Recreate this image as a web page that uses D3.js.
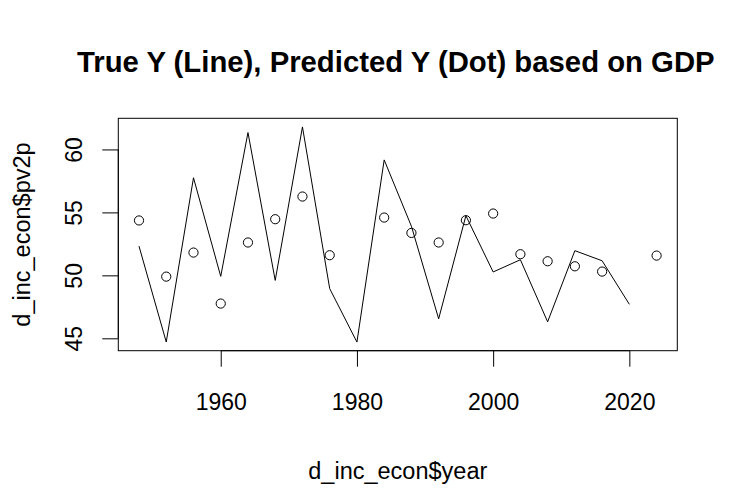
<!DOCTYPE html>
<html>
<head>
<meta charset="utf-8">
<script src="https://cdn.jsdelivr.net/npm/d3@7"></script>
<style>
html, body { margin: 0; padding: 0; background: #fff; }
svg { display: block; }
text { font-family: "Liberation Sans", Arial, sans-serif; fill: #000; }
</style>
</head>
<body>
<script>
const years = [1948, 1952, 1956, 1960, 1964, 1968, 1972, 1976, 1980, 1984, 1988, 1992, 1996, 2000, 2004, 2008, 2012, 2016, 2020, 2024];
const trueY = [52.32, 44.71, 57.75, 49.92, 61.34, 49.6, 61.79, 48.95, 44.7, 59.17, 53.9, 46.55, 54.74, 50.27, 51.24, 46.31, 51.96, 51.16, 47.7, null];
const predY = [54.36, 49.9, 51.81, 47.76, 52.61, 54.46, 56.26, 51.6, null, 54.59, 53.37, 52.61, 54.38, 54.91, 51.68, 51.12, 50.72, 50.3, null, 51.57];
const xTicks = [1960, 1980, 2000, 2020];
const yTicks = [45, 50, 55, 60];
const title = "True Y (Line), Predicted Y (Dot) based on GDP";
const xLabel = "d_inc_econ$year";
const yLabel = "d_inc_econ$pv2p";

const W = 738, H = 498;
const L = 118.3, R = 677.3, T = 118.3, B = 350.7;

const svg = d3.select("body").append("svg").attr("width", W).attr("height", H);

const xMin = d3.min(years), xMax = d3.max(years);
const xPad = (xMax - xMin) * 0.04;
const x = d3.scaleLinear().domain([xMin - xPad, xMax + xPad]).range([L, R]);

const yVals = trueY.filter(v => v != null);
const yMin = d3.min(yVals), yMax = d3.max(yVals);
const yPad = (yMax - yMin) * 0.04;
const y = d3.scaleLinear().domain([yMin - yPad, yMax + yPad]).range([B, T]);

// line
const lineData = years.map((yr, i) => ({yr, v: trueY[i]}));
svg.append("path")
  .datum(lineData)
  .attr("fill", "none")
  .attr("stroke", "#000")
  .attr("stroke-width", 1)
  .attr("d", d3.line().defined(d => d.v != null).x(d => x(d.yr)).y(d => y(d.v)));

// points
const ptData = years.map((yr, i) => ({yr, v: predY[i]})).filter(d => d.v != null);
svg.append("g").selectAll("circle").data(ptData).join("circle")
  .attr("cx", d => x(d.yr)).attr("cy", d => y(d.v)).attr("r", 4.6)
  .attr("fill", "none").attr("stroke", "#000").attr("stroke-width", 1);

// box
svg.append("rect").attr("x", L).attr("y", T).attr("width", R - L).attr("height", B - T)
  .attr("fill", "none").attr("stroke", "#000").attr("stroke-width", 1);

// x axis
const xAxis = d3.axisBottom(x).tickValues(xTicks).tickFormat(d3.format("d")).tickSize(16).tickPadding(27);
const gx = svg.append("g").attr("transform", `translate(0,${B})`).call(xAxis);
gx.select(".domain").attr("d", `M${x(xTicks[0])},0H${x(xTicks[xTicks.length-1])}`);
gx.selectAll("text").style("font-size", "23px").style("font-family", '"Liberation Sans", Arial, sans-serif');
gx.selectAll("line").attr("stroke", "#000");

// y axis
const yAxis = d3.axisLeft(y).tickValues(yTicks).tickSize(16).tickPadding(0);
const gy = svg.append("g").attr("transform", `translate(${L},0)`).call(yAxis);
gy.select(".domain").attr("d", `M0,${y(yTicks[0])}V${y(yTicks[yTicks.length-1])}`);
gy.selectAll("line").attr("stroke", "#000");
gy.selectAll(".tick text")
  .attr("x", 0).attr("dy", null).attr("text-anchor", "middle")
  .attr("transform", "translate(-36.5,0) rotate(-90)")
  .attr("y", 0)
  .style("font-size", "23px").style("font-family", '"Liberation Sans", Arial, sans-serif');

// title
svg.append("text").attr("x", (L + R) / 2 - 2).attr("y", 71.7)
  .attr("text-anchor", "middle").style("font-size", "29.3px").style("font-weight", "bold")
  .text(title);

// x label
svg.append("text").attr("x", (L + R) / 2).attr("y", 478.7)
  .attr("text-anchor", "middle").style("font-size", "23.5px").text(xLabel);

// y label
svg.append("text").attr("transform", `translate(30,${(T + B) / 2}) rotate(-90)`)
  .attr("text-anchor", "middle").style("font-size", "23.5px").text(yLabel);
</script>
</body>
</html>
